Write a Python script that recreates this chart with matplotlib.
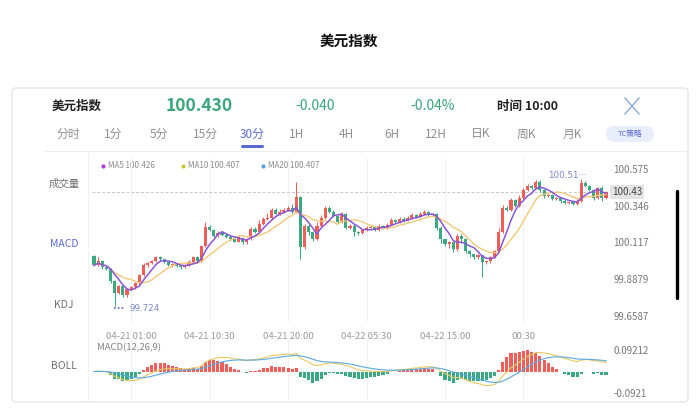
import matplotlib
matplotlib.use("Agg")
import matplotlib.pyplot as plt
from matplotlib.patches import FancyBboxPatch
from matplotlib.transforms import blended_transform_factory
import numpy as np
import pandas as pd

plt.rcParams["font.family"] = ["Noto Sans CJK SC", "DejaVu Sans"]

W, H = 698, 416

# 30 分钟 K 线收盘价（从 04-20 20:30 起，共 125 根）
closes = [
    99.975, 99.999, 99.962, 99.950, 99.876, 99.801, 99.845, 99.789, 99.826, 99.838,
    99.863, 99.913, 99.975, 99.987, 99.999, 100.024, 100.012, 99.993, 99.975, 99.981,
    99.968, 99.962, 99.975, 99.993, 100.024, 99.999, 100.092, 100.216, 100.197, 100.160,
    100.179, 100.166, 100.154, 100.136, 100.123, 100.148, 100.117, 100.136, 100.204, 100.185,
    100.235, 100.265, 100.272, 100.321, 100.296, 100.309, 100.321, 100.334, 100.309, 100.402,
    100.086, 100.222, 100.185, 100.136, 100.222, 100.272, 100.334, 100.309, 100.284, 100.247,
    100.296, 100.210, 100.222, 100.185, 100.173, 100.197, 100.210, 100.216, 100.197, 100.222,
    100.210, 100.228, 100.259, 100.247, 100.265, 100.253, 100.272, 100.290, 100.278, 100.296,
    100.309, 100.290, 100.296, 100.210, 100.136, 100.105, 100.117, 100.074, 100.160, 100.136,
    100.061, 100.043, 100.024, 100.036, 99.993, 99.999, 100.024, 100.061, 100.185, 100.334,
    100.321, 100.383, 100.346, 100.395, 100.445, 100.470, 100.457, 100.495, 100.445, 100.408,
    100.414, 100.389, 100.395, 100.377, 100.365, 100.371, 100.358, 100.377, 100.488, 100.470,
    100.445, 100.395, 100.457, 100.395, 100.430,
]
first_open = 100.030

# 上 / 下影线长度（单位 0.001）
upper_wick = [
    8, 25, 6, 5, 6, 5, 10, 8, 6, 6,
    8, 10, 12, 6, 8, 10, 6, 5, 8, 6,
    6, 5, 8, 12, 10, 6, 10, 30, 8, 6,
    10, 8, 6, 8, 6, 10, 5, 8, 12, 8,
    25, 10, 30, 12, 8, 15, 10, 12, 20, 93,
    5, 12, 8, 6, 20, 15, 10, 8, 10, 6,
    8, 6, 10, 8, 5, 6, 10, 8, 5, 12,
    6, 10, 8, 6, 10, 8, 12, 10, 6, 10,
    8, 6, 5, 6, 8, 5, 10, 6, 10, 8,
    6, 8, 5, 10, 6, 5, 8, 10, 20, 15,
    12, 10, 8, 15, 10, 12, 8, 12, 10, 8,
    6, 8, 5, 6, 8, 5, 6, 8, 22, 10,
    8, 6, 8, 10, 6,
]
lower_wick = [
    6, 5, 8, 6, 10, 77, 8, 12, 10, 6,
    8, 6, 5, 8, 6, 5, 8, 6, 5, 8,
    6, 8, 5, 6, 8, 10, 6, 5, 8, 6,
    8, 6, 10, 8, 6, 5, 10, 8, 5, 6,
    6, 8, 5, 6, 10, 8, 6, 5, 8, 6,
    74, 8, 20, 10, 6, 5, 8, 6, 10, 8,
    6, 10, 8, 25, 8, 6, 10, 5, 8, 6,
    8, 6, 5, 8, 6, 10, 5, 8, 6, 5,
    6, 8, 10, 15, 25, 12, 20, 15, 8, 20,
    12, 15, 10, 8, 93, 10, 8, 6, 5, 8,
    10, 6, 8, 5, 6, 8, 10, 6, 12, 15,
    8, 10, 8, 12, 6, 10, 8, 6, 5, 8,
    10, 15, 8, 20, 6,
]

tick_idx = [9, 28, 47, 66, 85, 104]
tick_labels = ["04-21 01:00", "04-21 10:30", "04-21 20:00",
               "04-22 05:30", "04-22 15:00", "00:30"]
price_ticks = [100.575, 100.346, 100.117, 99.8879, 99.6587]
price_labels = ["100.575", "100.346", "100.117", "99.8879", "99.6587"]
macd_ticks = [0.09212, -0.0921]
macd_labels = ["0.09212", "-0.0921"]

last_price = 100.43
header = ["美元指数", "100.430", "-0.040", "-0.04%", "时间 10:00"]
tabs = ["分时", "1分", "5分", "15分", "30分", "1H", "4H", "6H", "12H", "日K", "周K", "月K"]
side_labels = ["成交量", "MACD", "KDJ", "BOLL"]
ma_legend = [("MA5", "100.426"), ("MA10", "100.407"), ("MA20", "100.407")]

UP = "#ef5f5a"
DOWN = "#3aa882"
ACCENT = "#5b6ad0"

opens = [first_open] + closes[:-1]
highs = [max(o, c) + u / 1000 for o, c, u in zip(opens, closes, upper_wick)]
lows = [min(o, c) - d / 1000 for o, c, d in zip(opens, closes, lower_wick)]
n = len(closes)
x = np.arange(n)

s = pd.Series(closes)
ma5 = s.rolling(5, min_periods=1).mean()
ma10 = s.rolling(10, min_periods=1).mean()
dif = s.ewm(span=12, adjust=False).mean() - s.ewm(span=26, adjust=False).mean()
dea = dif.ewm(span=9, adjust=False).mean()
hist = 2 * (dif - dea)

fig = plt.figure(figsize=(W / 100, H / 100), dpi=100)
fig.patch.set_facecolor("white")

# 整体画布（像素坐标）
bg = fig.add_axes([0, 0, 1, 1])
bg.set_xlim(0, W)
bg.set_ylim(H, 0)
bg.axis("off")

bg.text(349, 41, "美元指数", ha="center", va="center", fontsize=10.5, fontweight="bold", color="#111")
bg.add_patch(FancyBboxPatch((12, 88), 676, 314, boxstyle="round,pad=0,rounding_size=4",
                            fc="white", ec="#e6e6e6", lw=1))

hx = [52, 166, 295, 410, 497]
hstyle = [dict(fontsize=9, fontweight="bold", color="#222"),
          dict(fontsize=12.5, fontweight="bold", color="#3aa57a"),
          dict(fontsize=10, fontweight="medium", color="#3aa57a"),
          dict(fontsize=10, fontweight="medium", color="#3aa57a"),
          dict(fontsize=9, fontweight="bold", color="#222")]
for t, hxx, st in zip(header, hx, hstyle):
    bg.text(hxx, 106, t, ha="left", va="center", **st)
bg.plot([625, 639], [98, 114], color="#8aa8dc", lw=1.0)
bg.plot([625, 639], [114, 98], color="#8aa8dc", lw=1.0)

tab_x = [68, 113, 159, 205, 252, 297, 346, 392, 436, 481, 526, 572]
for t, tx in zip(tabs, tab_x):
    active = t == "30分"
    bg.text(tx, 134, t, ha="center", va="center", fontsize=8.5,
            color=ACCENT if active else "#8f8f8f")
    if active:
        bg.plot([tx - 10, tx + 10], [146, 146], color=ACCENT, lw=2.2, solid_capstyle="round")
bg.add_patch(FancyBboxPatch((606, 126), 48, 16, boxstyle="round,pad=0,rounding_size=8",
                            fc="#e9eefb", ec="none"))
bg.text(630, 134, "TC策略", ha="center", va="center", fontsize=5.5, color=ACCENT)
bg.plot([45, 688], [151, 151], color="#eeeeee", lw=0.8)
bg.plot([88, 88], [152, 401], color="#f2f2f2", lw=0.8)

for t, sy in zip(side_labels, [184, 244, 305, 366]):
    bg.text(64, sy, t, ha="center", va="center", fontsize=7.5,
            color=ACCENT if t == "MACD" else "#707070")

mx = [103, 183, 263]
mcol = ["#b23ad8", "#c9c43a", "#4fa3e0"]
for (name, val), px, c in zip(ma_legend, mx, mcol):
    bg.plot(px, 166, "o", ms=3, color=c, mec="none")
    bg.text(px + 5, 166, f"{name} {val}", ha="left", va="center", fontsize=5.8, color="#8a8a8a")
bg.text(97, 348, "MACD(12,26,9)", ha="left", va="center", fontsize=6.8, color="#808080")
bg.plot([677, 677], [191, 298], color="black", lw=2.4, solid_capstyle="round")

# 主图：K 线
x0, dx = 94, 4.129
xl = ((92 - x0) / dx, (608 - x0) / dx)
k = (100.575 - 99.6587) / 147
ax = fig.add_axes([92 / W, 1 - 322 / H, 516 / W, 164 / H])
ax.patch.set_alpha(0)
ax.set_xlim(*xl)
ax.set_ylim(99.6587 - 6 * k, 100.575 + 11 * k)
for xi in tick_idx:
    ax.axvline(xi, color="#f2f2f2", lw=0.8, zorder=0)
ax.axhline(last_price, color="#c8c8c8", lw=0.7, ls=(0, (3, 2)), zorder=0)

colors = [UP if c >= o else DOWN for o, c in zip(opens, closes)]
ax.vlines(x, lows, highs, colors=colors, lw=0.75, zorder=2)
bottoms = [min(o, c) for o, c in zip(opens, closes)]
heights = [max(abs(c - o), 0.002) for o, c in zip(opens, closes)]
ax.bar(x, heights, bottom=bottoms, width=0.75, color=colors, zorder=3, linewidth=0)
ax.plot(x, ma10, color="#f2c879", lw=1.0, zorder=4)
ax.plot(x, ma5, color="#8a55d6", lw=1.1, zorder=5)

i_lo = int(np.argmin(lows))
i_hi = int(np.argmax(highs))
ax.text(i_lo - 0.3, lows[i_lo] - 3 * k, "···", ha="left", va="center",
        fontsize=7, color="#7b88c9", family="DejaVu Sans", fontweight="bold")
ax.text(i_lo + 3.6, lows[i_lo] - 3 * k, "%.3f" % lows[i_lo], ha="left", va="center",
        fontsize=6.3, color="#7b88c9", family="DejaVu Sans")
ax.text(i_hi + 1.2, highs[i_hi] + 4 * k, "%.2f···" % highs[i_hi], ha="right", va="center",
        fontsize=6.3, color="#7b88c9", family="DejaVu Sans")

ax.set_xticks(tick_idx)
ax.set_xticklabels(tick_labels)
ax.set_yticks(price_ticks)
ax.set_yticklabels(price_labels)
ax.yaxis.tick_right()
ax.tick_params(axis="x", length=0, pad=7, labelsize=6.8, labelcolor="#9a9a9a")
ax.tick_params(axis="y", length=0, pad=4, labelsize=7, labelcolor="#777777")
for sp in ax.spines.values():
    sp.set_visible(False)
tr = blended_transform_factory(ax.transAxes, ax.transData)
ax.text(1.008, last_price, "100.43", transform=tr, ha="left", va="center", fontsize=7,
        color="#444", bbox=dict(boxstyle="square,pad=0.2", fc="#e3e3e3", ec="none"), zorder=6)

# 副图：MACD
k2 = (0.09212 + 0.0921) / 43
axm = fig.add_axes([92 / W, 1 - 400 / H, 516 / W, 60 / H])
axm.patch.set_alpha(0)
axm.set_xlim(*xl)
axm.set_ylim(-0.0921 - 7 * k2, 0.09212 + 10 * k2)
for xi in tick_idx:
    axm.axvline(xi, color="#f2f2f2", lw=0.8, zorder=0)
hcol = [UP if v >= 0 else DOWN for v in hist]
axm.bar(x, hist, width=0.75, color=hcol, linewidth=0, zorder=2)
axm.plot(x, dif, color="#e9c860", lw=0.8, zorder=3)
axm.plot(x, dea, color="#5aa8e0", lw=0.8, zorder=3)
axm.set_xticks([])
axm.set_yticks(macd_ticks)
axm.set_yticklabels(macd_labels)
axm.yaxis.tick_right()
axm.tick_params(axis="y", length=0, pad=4, labelsize=7, labelcolor="#777777")
for sp in axm.spines.values():
    sp.set_visible(False)

fig.savefig("out.png", dpi=100)
